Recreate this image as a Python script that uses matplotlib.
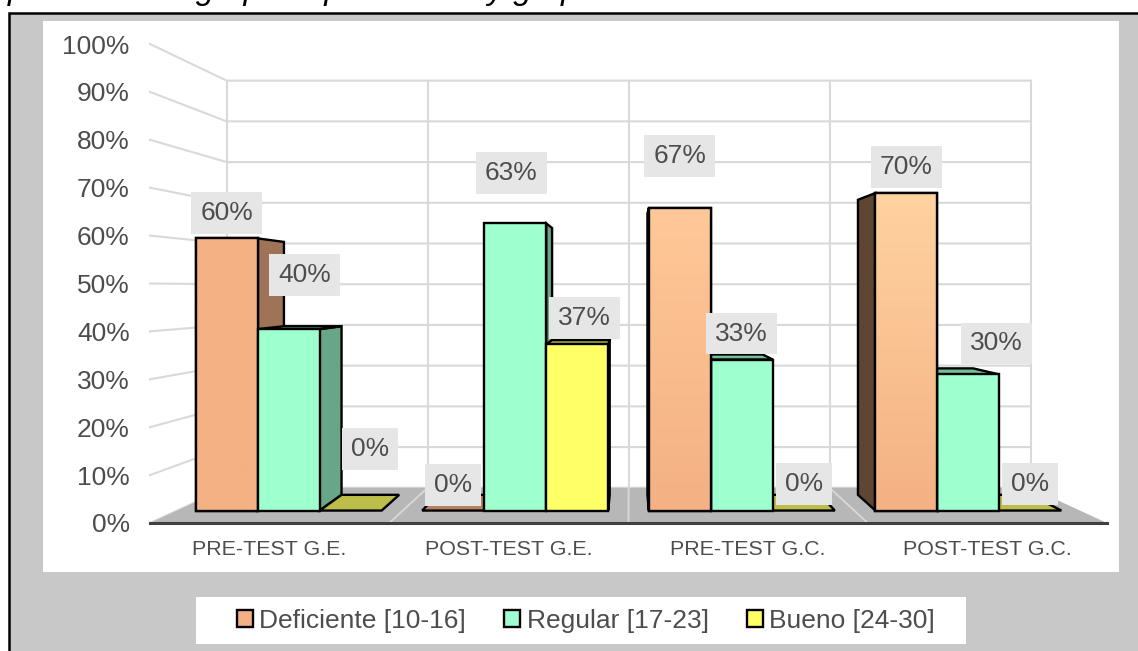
import matplotlib
matplotlib.use("Agg")
import matplotlib.pyplot as plt
import numpy as np
from matplotlib.colors import to_rgb
from matplotlib.patches import Patch, Polygon, Rectangle
from matplotlib.ticker import FuncFormatter

plt.rcParams["font.family"] = ["Liberation Sans", "DejaVu Sans"]

# --- data ---
categories = ["PRE-TEST G.E.", "POST-TEST G.E.", "PRE-TEST G.C.", "POST-TEST G.C."]
series_names = ["Deficiente [10-16]", "Regular [17-23]", "Bueno [24-30]"]
deficiente = [60, 0, 66.7, 70]
regular = [40, 63.3, 33.3, 30]
bueno = [0, 36.7, 0, 0]
y_ticks = [0, 10, 20, 30, 40, 50, 60, 70, 80, 90, 100]
caption = "post-test del grupo experimental y grupo de control"

# --- style ---
W, H = 1138, 651
GREY = "#C8C8C8"
TEXT = "#4D4D4D"
GRID = "#D9D9D9"
FLOOR = "#B7B7B7"
COLORS = ["#F4B183", "#9EFFCF", "#FFFF66"]
# top colour of the orange gradient, one per group
ORANGE_TOP = ["#F4B183", "#F4B183", "#FFC898", "#FFD2A0"]
# label offsets from the top of each bar, in pixels (series, group)
LABEL_OFFSET = [
    [(0, 26), (0, 27), (0, 53), (0, 27)],
    [(16, 55), (-4, 51), (0, 27), (28, 32)],
    [(19, 63), (7, 27), (0, 28), (0, 28)],
]

# perspective, in axis units: vanishing point and plane scales
VX, VY = 1.502, 49.0
BAR_S = 0.947
BACK_S = 0.88
WALL_SX, WALL_SY = 0.84, 0.85
BAR_W = 0.2736


def project(cat, val, sx, sy=None):
    sy = sx if sy is None else sy
    return VX + sx * (cat - VX), VY + sy * (val - VY)


def shade(color, k):
    return tuple(c * k for c in to_rgb(color))


def draw_bar(ax, left, value, color, front_top=None, z=3):
    right = left + BAR_W
    a = project(left, 0, BAR_S)
    b = project(right, 0, BAR_S)
    c = project(right, value, BAR_S)
    d = project(left, value, BAR_S)
    edge = dict(edgecolor="black", linewidth=1.7, joinstyle="miter")

    # side face looks towards the vanishing point
    on_left = (left + right) / 2 < VX
    side_x = right if on_left else left
    side = [project(side_x, 0, BAR_S), project(side_x, value, BAR_S),
            project(side_x, value, BACK_S), project(side_x, 0, BACK_S)]
    k = 0.65 if on_left or color != COLORS[0] else 0.39
    if value > 0:
        ax.add_patch(Polygon(side, facecolor=shade(color, k), zorder=z, **edge))

    # top face only when the top is under eye level
    if value < VY:
        top = [d, c, project(right, value, BACK_S), project(left, value, BACK_S)]
        ax.add_patch(Polygon(top, facecolor=shade(color, 0.74), zorder=z, **edge))

    if value > 0:
        face = Polygon([a, b, c, d], facecolor=color, zorder=z, **edge)
        ax.add_patch(face)
        if front_top is not None:
            grad = np.linspace(to_rgb(front_top), to_rgb(color), 64)[:, None, :]
            im = ax.imshow(grad, extent=(a[0], b[0], a[1], d[1]), origin="upper",
                           aspect="auto", zorder=z, interpolation="bilinear")
            im.set_clip_path(face)
            ax.add_patch(Polygon([a, b, c, d], facecolor="none", zorder=z, **edge))


fig = plt.figure(figsize=(W / 100, H / 100), dpi=100, facecolor="white")

# --- frame, panels ---
bg = fig.add_axes([0, 0, 1, 1], zorder=0)
bg.set_xlim(0, W)
bg.set_ylim(H, 0)
bg.axis("off")
bg.add_patch(Rectangle((9, 13), W, H, facecolor=GREY, edgecolor="black", linewidth=1.8))
bg.add_patch(Rectangle((43, 21), 1076, 551, facecolor="white", edgecolor="none"))
bg.add_patch(Rectangle((196, 597), 770, 47, facecolor="white", edgecolor="none"))
fig.text(8 / W, 1.002, caption, fontsize=23.8, style="italic", color="black", va="baseline")

# --- chart ---
ax = fig.add_axes([150 / W, 1 - 523 / H, 957 / W, 479 / H], zorder=1)
ax.patch.set_alpha(0)
ax.set_xlim(-0.5, 3.5)
ax.set_ylim(0, 100)

ax.set_xticks(range(len(categories)))
ax.set_xticklabels(categories, fontsize=15.4, color=TEXT)
ax.set_yticks(y_ticks)
ax.yaxis.set_major_formatter(FuncFormatter(lambda v, _: f"{v:.0f}%"))
ax.tick_params(axis="y", length=0, pad=14.5, labelsize=19, labelcolor=TEXT)
ax.tick_params(axis="x", length=0, pad=12)
for name in ("top", "left", "right"):
    ax.spines[name].set_visible(False)
ax.spines["bottom"].set_color("#404040")
ax.spines["bottom"].set_linewidth(2.2)
ax.spines["bottom"].set_zorder(2.5)

# walls
for v in y_ticks:
    x0, y0 = project(-0.5, v, 1)
    x1, y1 = project(-0.5, v, WALL_SX, WALL_SY)
    x2, y2 = project(3.5, v, WALL_SX, WALL_SY)
    ax.plot([x0, x1, x2], [y0, y1, y2], color=GRID, lw=1.5, zorder=1, clip_on=False)
for c in np.arange(-0.5, 4):
    x0, y0 = project(c, 0, WALL_SX, WALL_SY)
    x1, y1 = project(c, 100, WALL_SX, WALL_SY)
    ax.plot([x0, x1], [y0, y1], color=GRID, lw=1.5, zorder=1, clip_on=False)

# floor
floor = [project(-0.5, 0, 1), project(3.5, 0, 1),
         project(3.5, 0, WALL_SX, WALL_SY), project(-0.5, 0, WALL_SX, WALL_SY)]
ax.add_patch(Polygon(floor, facecolor=FLOOR, edgecolor="none", zorder=1.5, clip_on=False))
for c in (0.5, 1.5, 2.5):
    x0, y0 = project(c, 0, 1)
    x1, y1 = project(c, 0, WALL_SX, WALL_SY)
    ax.plot([x0, x1], [y0, y1], color=GRID, lw=1.3, zorder=2)

# bars, furthest from the vanishing point first so nearer ones cover their side faces
values = [deficiente, regular, bueno]
bars = []
for s, series in enumerate(values):
    for g, v in enumerate(series):
        left = g + (s - 1.5) * BAR_W
        bars.append((abs(left + BAR_W / 2 - VX), left, v, s, g))
bars.sort(key=lambda b: -b[0])

for rank, (_, left, v, s, g) in enumerate(bars):
    top = ORANGE_TOP[g] if s == 0 else None
    draw_bar(ax, left, v, COLORS[s], front_top=top, z=3 + rank * 0.01)

# data labels
for s, series in enumerate(values):
    for g, v in enumerate(series):
        left = g + (s - 1.5) * BAR_W
        xy = project(left + BAR_W / 2, v, BAR_S)
        dx, dy = LABEL_OFFSET[s][g]
        ax.annotate(f"{v:.0f}%", xy=xy, xytext=(dx * 0.72, (dy - 1) * 0.72),
                    textcoords="offset points", ha="center", va="center",
                    fontsize=19, color=TEXT, zorder=10,
                    bbox=dict(boxstyle="square,pad=0.34", facecolor="#E6E6E6", edgecolor="none"))

ax.set_xlim(-0.5, 3.5)
ax.set_ylim(0, 100)

# legend
handles = [Patch(facecolor=c, edgecolor="black", linewidth=1.7) for c in COLORS]
fig.legend(handles, series_names, loc="center", bbox_to_anchor=(586 / W, 1 - 621 / H),
           ncol=3, frameon=False, fontsize=19, labelcolor=TEXT, handlelength=0.6,
           handleheight=0.6, handletextpad=0.25, columnspacing=1.45)

fig.savefig("out.png", dpi=100)
